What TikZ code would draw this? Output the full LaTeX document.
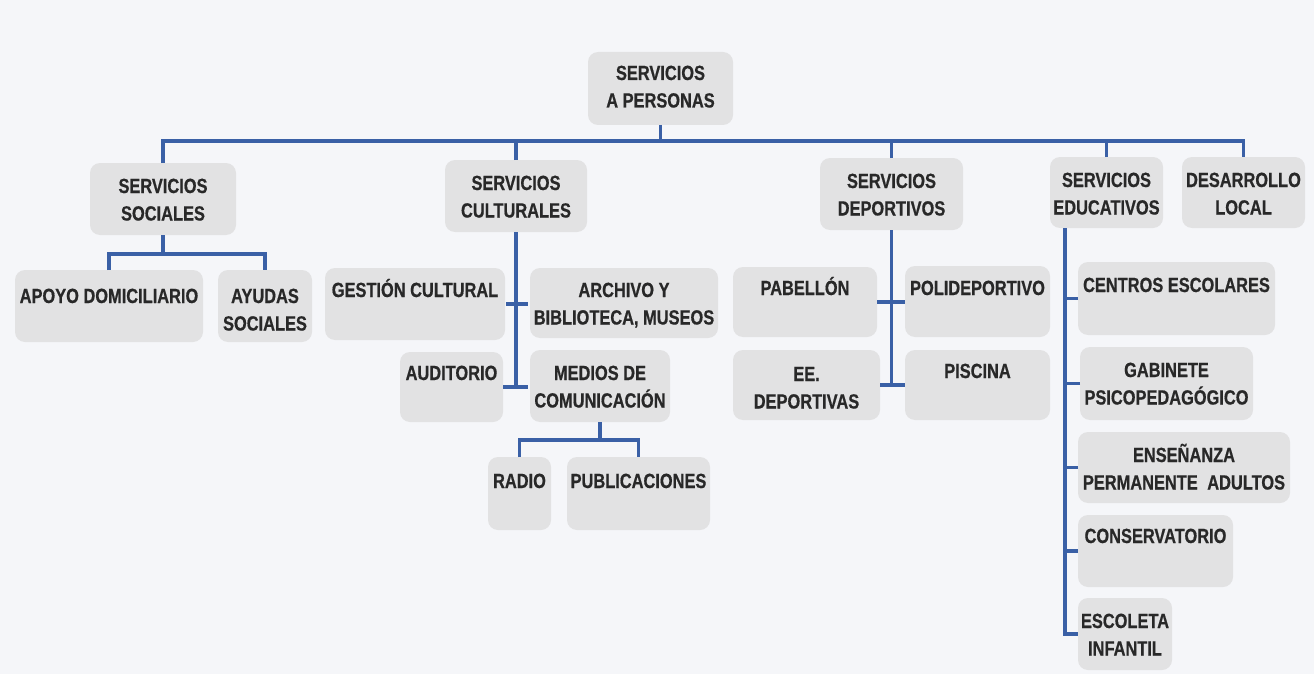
\documentclass[tikz,border=0pt]{standalone}
\usepackage{fontspec}
\newfontfamily\bxfont{Liberation Sans}[FakeStretch=0.8,FakeBold=0.6]
\definecolor{lineblue}{RGB}{58,96,166}
\definecolor{boxgray}{RGB}{226,226,227}
\definecolor{bggray}{RGB}{245,246,249}
\definecolor{txtgray}{RGB}{40,40,40}
\tikzset{
  bx/.style={rectangle, rounded corners=10pt, fill=boxgray, inner sep=0pt, outer sep=0pt,
    text=txtgray, font=\bxfont\bfseries\fontsize{20.5}{27.5}\selectfont},
  ln/.style={draw=lineblue, line width=3.5pt}
}
\newcommand\orgbox[7]{%
  \pgfmathsetmacro\bxcx{(#2+#4)/2}\pgfmathsetmacro\bxcy{(#3+#5)/2}%
  \pgfmathsetmacro\bxw{#4-#2}\pgfmathsetmacro\bxh{#5-#3}%
  \node[bx] (#1) at (\bxcx,\bxcy) {\parbox[c][\bxh pt][t]{\bxw pt}{\centering\rule{0pt}{#6pt}#7}};%
}
\begin{document}
\begin{tikzpicture}[x=1pt,y=-1pt]
\useasboundingbox (0,0) rectangle (1314,674);
\fill[bggray] (0,0) rectangle (1314,674);
% boxes
\orgbox{root}{588}{52}{733}{125}{28}{SERVICIOS\\A PERSONAS}
\orgbox{soc}{90}{163}{236}{235}{30}{SERVICIOS\\SOCIALES}
\orgbox{cul}{445}{160}{587}{232}{30}{SERVICIOS\\CULTURALES}
\orgbox{dep}{820}{158}{963}{230}{30}{SERVICIOS\\DEPORTIVOS}
\orgbox{edu}{1050}{157}{1163}{228}{30}{SERVICIOS\\EDUCATIVOS}
\orgbox{des}{1182}{157}{1305}{228}{30}{DESARROLLO\\LOCAL}
\orgbox{apo}{15}{270}{203}{342}{33}{APOYO DOMICILIARIO}
\orgbox{ayu}{218}{270}{312}{342}{33}{AYUDAS\\SOCIALES}
\orgbox{ges}{325}{268}{505}{340}{29}{GESTIÓN CULTURAL}
\orgbox{arc}{530}{268}{718}{338}{29}{ARCHIVO Y\\BIBLIOTECA, MUSEOS}
\orgbox{aud}{400}{352}{503}{422}{28}{AUDITORIO}
\orgbox{med}{530}{350}{670}{422}{30}{MEDIOS DE\\COMUNICACIÓN}
\orgbox{rad}{488}{457}{551}{530}{31}{RADIO}
\orgbox{pub}{567}{457}{710}{530}{31}{PUBLICACIONES}
\orgbox{pab}{733}{267}{877}{337}{28}{PABELLÓN}
\orgbox{pol}{905}{266}{1050}{337}{29}{POLIDEPORTIVO}
\orgbox{ee}{733}{350}{880}{420}{31}{EE.\\DEPORTIVAS}
\orgbox{pis}{905}{350}{1050}{420}{28}{PISCINA}
\orgbox{cen}{1078}{262}{1275}{335}{30}{CENTROS ESCOLARES}
\orgbox{gab}{1080}{347}{1253}{420}{30}{GABINETE\\PSICOPEDAGÓGICO}
\orgbox{ens}{1078}{432}{1290}{503}{30}{ENSEÑANZA\\PERMANENTE\hspace{5pt} ADULTOS}
\orgbox{con}{1078}{515}{1233}{587}{28}{CONSERVATORIO}
\orgbox{esc}{1078}{598}{1172}{670}{30}{ESCOLETA\\INFANTIL}
% helper coordinates
\coordinate (bus) at (660,141);
\coordinate (socbar) at (162,254);
\coordinate (medbar) at (600,440);
\coordinate (edustem) at ([xshift=15pt]edu.south west);
% top level
\draw[ln] (root.south) -- (root.south |- bus);
\draw[ln] (soc.north) -- (soc.north |- bus) -- (des.north |- bus) -- (des.north);
\draw[ln] (cul.north) -- (cul.north |- bus);
\draw[ln] (dep.north) -- (dep.north |- bus);
\draw[ln] (edu.north) -- (edu.north |- bus);
% sociales
\draw[ln] (soc.south) -- (soc.south |- socbar);
\draw[ln] (apo.north) -- (apo.north |- socbar) -- (ayu.north |- socbar) -- (ayu.north);
% culturales
\draw[ln] (cul.south) -- (cul.south |- aud.east);
\draw[ln,shorten <=1pt,shorten >=2pt] (ges.east) -- (ges.east -| arc.west);
\draw[ln,shorten >=2pt] (aud.east) -- (aud.east -| med.west);
% medios
\draw[ln] (med.south) -- (med.south |- medbar);
\draw[ln] (rad.north) -- (rad.north |- medbar) -- (pub.north |- medbar) -- (pub.north);
% deportivos
\draw[ln] (dep.south) -- (dep.south |- ee.east);
\draw[ln] (pab.east) -- (pab.east -| pol.west);
\draw[ln] (ee.east) -- (ee.east -| pis.west);
% educativos
\draw[ln] (edustem) |- (esc.west);
\draw[ln] (cen.west) -- (cen.west -| edustem);
\draw[ln] (gab.west) -- (gab.west -| edustem);
\draw[ln] (ens.west) -- (ens.west -| edustem);
\draw[ln] (con.west) -- (con.west -| edustem);
\end{tikzpicture}
\end{document}
